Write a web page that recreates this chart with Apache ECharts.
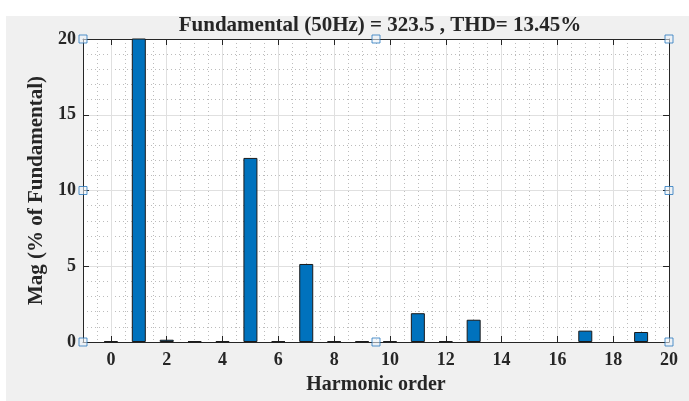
<!DOCTYPE html>
<html><head><meta charset="utf-8">
<script src="https://cdn.jsdelivr.net/npm/echarts@6/dist/echarts.min.js"></script>
<style>
html,body{margin:0;padding:0;background:#fff;width:689px;height:401px;overflow:hidden}
#c{position:absolute;left:6px;top:16px;width:683px;height:385px;}
</style></head>
<body><div id="c"></div>
<script>
// ---- data ----
const harmonicOrder = [0,1,2,3,4,5,6,7,8,9,10,11,12,13,14,15,16,17,18,19,20];
const magnitudePct  = [0.05,100,0.15,0.05,0.05,12.15,0.05,5.15,0.05,0.05,0.05,1.9,0.05,1.47,0,0,0,0.75,0,0.66,0];
const xTickValues   = [0,2,4,6,8,10,12,14,16,18,20];
const chartTitle    = 'Fundamental (50Hz) = 323.5 , THD= 13.45%';
const xAxisTitle    = 'Harmonic order';
const yAxisTitle    = 'Mag (% of Fundamental)';
const handleX       = [-1, 9.5, 20];
const handleY       = [0, 10, 20];

const FONT = "'Liberation Serif', 'Times New Roman', serif";
const TXT = '#262626';
const AX = '#262626';

const handles = [];
handleX.forEach(x => handleY.forEach(y => {
  if (!(x === handleX[1] && y === handleY[1])) handles.push([x, y]);
}));

const chart = echarts.init(document.getElementById('c'));
const xBase = {type:'value', min:-1, max:20, gridIndex:0};
chart.setOption({
  backgroundColor:'#f0f0f0',
  animation:false,
  title:{
    text: chartTitle, left: 369, top: -6, textAlign:'center',
    textStyle:{fontFamily:FONT, fontWeight:'bold', fontSize:21, color:TXT}
  },
  grid:{left:77, top:23, right:20, bottom:59, show:true, backgroundColor:'#fff', borderWidth:0},
  xAxis:[
    Object.assign({}, xBase, {
      position:'bottom', interval:0.5,
      axisLine:{show:true, onZero:false, lineStyle:{color:AX, width:1}},
      axisTick:{show:false}, axisLabel:{show:false},
      splitLine:{show:true, lineStyle:{color:'#bcbcbc', type:[1,3], width:1}}
    }),
    Object.assign({}, xBase, {
      position:'bottom',
      axisLine:{show:false, onZero:false},
      axisTick:{show:true, inside:true, length:6, customValues:xTickValues, lineStyle:{color:AX}},
      axisLabel:{show:true, customValues:xTickValues, margin:9, fontFamily:FONT, fontWeight:'bold', fontSize:18, color:TXT},
      splitLine:{show:true, lineStyle:{color:'#e0e0e0', width:1}},
      name:xAxisTitle, nameLocation:'middle', nameGap:33,
      nameTextStyle:{fontFamily:FONT, fontWeight:'bold', fontSize:20, color:TXT}
    }),
    Object.assign({}, xBase, {
      position:'top',
      axisLine:{show:true, onZero:false, lineStyle:{color:AX, width:1}},
      axisTick:{show:true, inside:true, length:6, customValues:xTickValues, lineStyle:{color:AX}},
      axisLabel:{show:false}, splitLine:{show:false}
    })
  ],
  yAxis:[
    {
      type:'value', min:0, max:20, interval:5, position:'left',
      axisLine:{show:true, onZero:false, lineStyle:{color:AX, width:1}},
      axisTick:{show:true, inside:true, length:6, lineStyle:{color:AX}},
      axisLabel:{margin:7, fontFamily:FONT, fontWeight:'bold', fontSize:18, color:TXT},
      splitLine:{show:true, lineStyle:{color:'#e0e0e0', width:1}},
      minorTick:{show:false, splitNumber:5},
      minorSplitLine:{show:true, lineStyle:{color:'#bcbcbc', type:[1,3], width:1}},
      name:yAxisTitle, nameLocation:'middle', nameGap:31, nameRotate:90,
      nameTextStyle:{fontFamily:FONT, fontWeight:'bold', fontSize:21, color:TXT}
    },
    {
      type:'value', min:0, max:20, interval:5, position:'right',
      axisLine:{show:true, onZero:false, lineStyle:{color:AX, width:1}},
      axisTick:{show:true, inside:true, length:6, lineStyle:{color:AX}},
      axisLabel:{show:false}, splitLine:{show:false}
    }
  ],
  series:[
    {
      type:'bar', xAxisIndex:0, yAxisIndex:0, barWidth:14,
      data: harmonicOrder.map((h,i) => [h, magnitudePct[i] === 0 ? '-' : magnitudePct[i]]),
      itemStyle:{color:'#0072BD', borderColor:'#1a1a1a', borderWidth:1},
      clip:true, z:3
    },
    {
      type:'scatter', xAxisIndex:0, yAxisIndex:0, data:handles,
      symbol:'rect', symbolSize:8, clip:false, z:10,
      itemStyle:{color:'rgba(235,242,250,0.7)', borderColor:'#2878be', borderWidth:1},
      silent:true
    }
  ]
});
</script></body></html>
